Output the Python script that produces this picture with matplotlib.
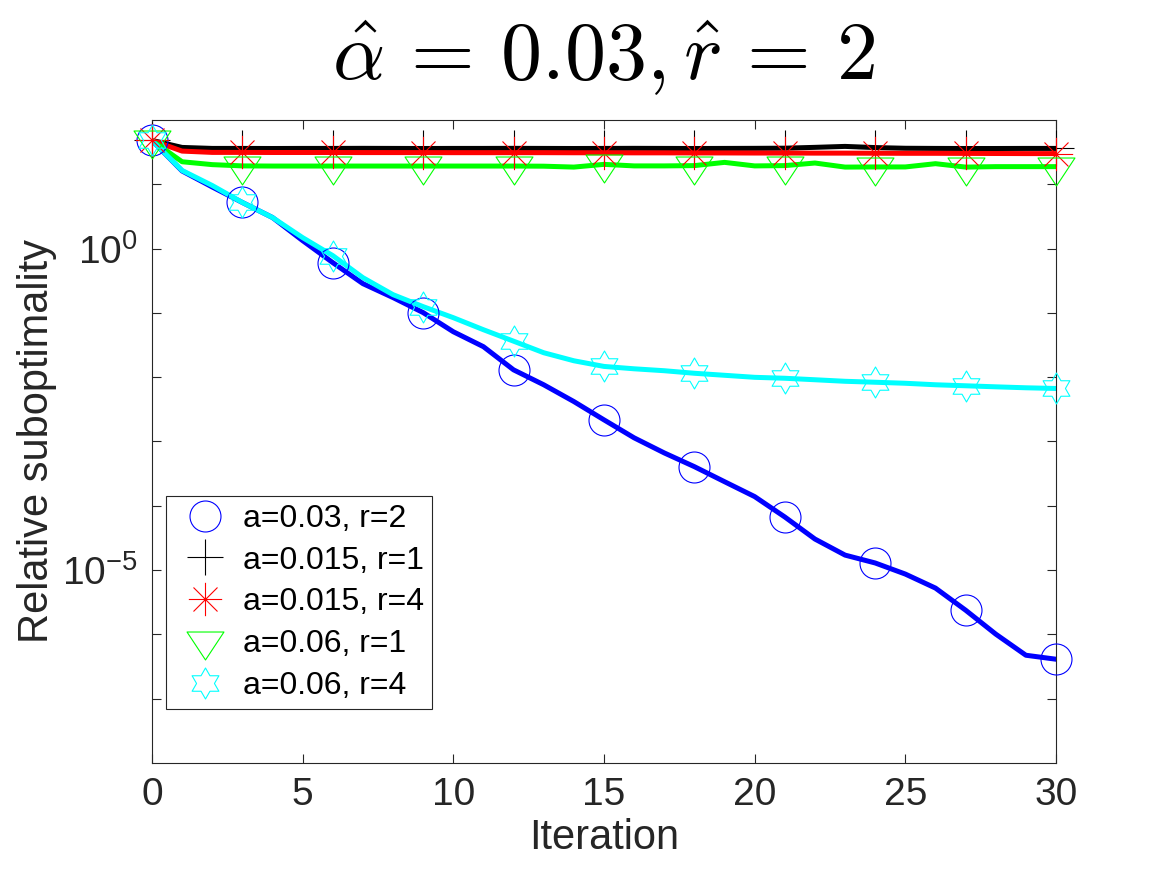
import numpy as np
import matplotlib
matplotlib.use('Agg')
import matplotlib.pyplot as plt
from matplotlib.path import Path

plt.rcParams['font.family'] = 'Liberation Sans'
plt.rcParams['mathtext.fontset'] = 'custom'
plt.rcParams['mathtext.rm'] = 'Liberation Sans'

iters = np.arange(31)

# relative suboptimality per iteration
blue_vals = [48.1, 16.1, 9.08, 5.21, 3.04, 1.33, 0.605, 0.285, 0.173, 0.101,
             0.0509, 0.0298, 0.0130, 0.00762, 0.00418, 0.00217, 0.00114, 6.64e-4, 4.06e-4, 2.37e-4,
             1.39e-4, 6.70e-5, 3.04e-5, 1.71e-5, 1.29e-5, 8.67e-6, 5.25e-6, 2.38e-6, 1.01e-6, 4.74e-7,
             4.11e-7]
black_vals = [48.1, 37.4, 36.1, 36.1, 36.0, 36.1, 36.1, 36.2, 36.1, 36.0,
              36.1, 36.1, 36.2, 36.1, 36.0, 36.1, 36.2, 36.1, 36.0, 36.1,
              36.2, 36.4, 37.5, 38.8, 37.2, 36.3, 36.1, 36.0, 36.0, 36.1,
              36.1]
red_vals = [48.1, 32.8, 31.3, 31.3, 31.2, 31.2, 31.2, 31.1, 31.1, 31.1,
            31.0, 31.0, 31.0, 31.0, 30.9, 30.9, 30.8, 30.8, 30.7, 30.7,
            30.6, 30.6, 30.5, 30.5, 30.4, 30.3, 30.3, 30.2, 30.1, 30.0,
            30.0]
green_vals = [48.1, 22.4, 20.2, 19.3, 19.2, 19.2, 19.2, 19.2, 19.2, 19.2,
              19.2, 19.2, 19.2, 19.1, 18.5, 20.4, 19.3, 19.3, 19.5, 21.9,
              19.3, 19.5, 21.4, 18.5, 18.6, 18.6, 20.9, 18.5, 18.8, 18.8,
              18.8]
cyan_vals = [48.1, 16.4, 9.57, 5.21, 3.04, 1.48, 0.778, 0.353, 0.192, 0.125,
             0.0842, 0.0547, 0.0363, 0.0240, 0.0180, 0.0147, 0.0135, 0.0126, 0.0115, 0.0107,
             0.00995, 0.00962, 0.00912, 0.00863, 0.00834, 0.00804, 0.00762, 0.00735, 0.00708, 0.00684,
             0.00667]

labels = ['a=0.03, r=2', 'a=0.015, r=1', 'a=0.015, r=4', 'a=0.06, r=1', 'a=0.06, r=4']
colors = ['#0000ff', '#000000', '#ff0000', '#00ff00', '#00ffff']

# MATLAB style markers
asterisk = Path([(0, -1), (0, 1), (-1, 0), (1, 0),
                 (-0.72, -0.72), (0.72, 0.72), (-0.72, 0.72), (0.72, -0.72)],
                [Path.MOVETO, Path.LINETO] * 4)
tri_down = Path([(-18.5, 9.5), (18.5, 9.5), (0, -18.5), (-18.5, 9.5)],
                [Path.MOVETO, Path.LINETO, Path.LINETO, Path.CLOSEPOLY])
hexagram = Path.unit_regular_star(6, 0.577)
markers = ['o', '+', asterisk, tri_down, hexagram]
msizes = [22.3, 26, 24, 26.6, 22.3]

series = [blue_vals, black_vals, red_vals, green_vals, cyan_vals]

fig = plt.figure(figsize=(11.67, 8.75), dpi=100)
ax = fig.add_axes([0.1302, 0.128, 0.7747, 0.7349])

for vals, c in zip(series, colors):
    ax.plot(iters, vals, color=c, lw=3.6, zorder=2)

for vals, c, m, ms, lab in zip(series, colors, markers, msizes, labels):
    ax.plot(iters[::3], np.array(vals)[::3], linestyle='none', marker=m, ms=ms,
            mfc='none', mec=c, mew=0.8, label=lab, clip_on=False, zorder=3)

ax.set_yscale('log')
ax.set_xlim(0, 30)
ax.set_ylim(1e-8, 1e2)
ax.set_xticks([0, 5, 10, 15, 20, 25, 30])
decades = [1e-7, 1e-6, 1e-5, 1e-4, 1e-3, 1e-2, 1e-1, 1e0, 1e1]
ax.set_yticks(decades)
ax.set_yticklabels(['', '', r'$\mathregular{10^{-5}}$', '', '', '', '', r'$\mathregular{10^{0}}$', ''])
ax.yaxis.set_minor_locator(matplotlib.ticker.NullLocator())

ax.tick_params(direction='in', top=True, right=True, length=6.5, width=0.8,
               colors='#262626', labelsize=28, pad=10)
for sp in ax.spines.values():
    sp.set_color('#262626')
    sp.set_linewidth(0.8)

ax.set_xlabel('Iteration', fontsize=30, color='#262626', labelpad=4)
ax.set_ylabel('Relative suboptimality', fontsize=30, color='#262626', labelpad=4)
ax.set_title(r'$\hat{\alpha}\,=\,0.03,\hat{r}\,=\,2$', fontsize=59,
             math_fontfamily='cm', pad=29)

leg = ax.legend(loc='lower left', bbox_to_anchor=(0.0155, 0.084), borderaxespad=0,
                fontsize=23, numpoints=1, fancybox=False, framealpha=1,
                edgecolor='#262626', borderpad=0.25, handlelength=1.94,
                handletextpad=0.22, labelspacing=0.37)
leg.get_frame().set_linewidth(0.8)

fig.savefig('out.png', dpi=100, facecolor='white')
